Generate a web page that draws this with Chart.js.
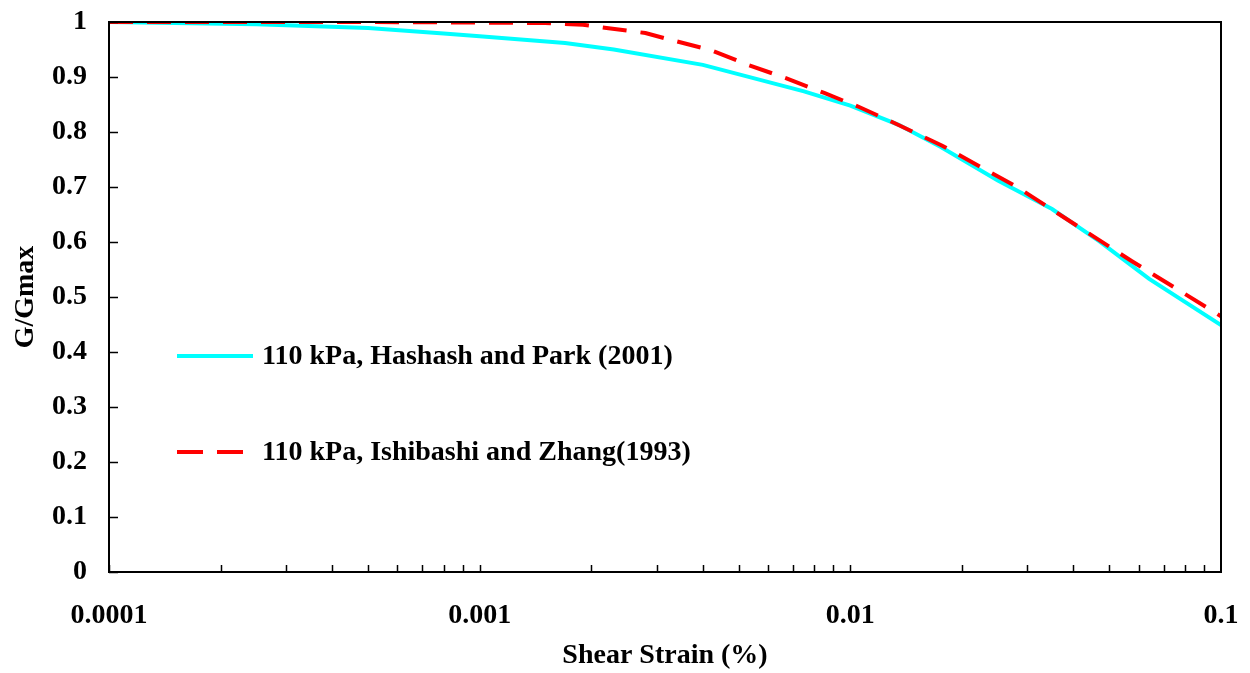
<!DOCTYPE html>
<html>
<head>
<meta charset="utf-8">
<script src="https://cdn.jsdelivr.net/npm/chart.js@4"></script>
<style>
  body { margin: 0; background: #fff; }
  #wrap { width: 1250px; height: 673px; }
</style>
</head>
<body>
<div id="wrap"><canvas id="gg" width="1250" height="673"></canvas></div>
<script>
// Hashash and Park (2001), 110 kPa
const hpStrain = [0.0001, 0.00025, 0.0005, 0.0008, 0.001, 0.0017, 0.0023, 0.004, 0.0075, 0.01, 0.0135, 0.0175, 0.025, 0.035, 0.047, 0.064, 0.1];
const hpRatio  = [1.0, 0.996, 0.989, 0.979, 0.974, 0.962, 0.950, 0.922, 0.874, 0.848, 0.813, 0.773, 0.712, 0.660, 0.601, 0.533, 0.449];

// Ishibashi and Zhang (1993), 110 kPa
const izStrain = [0.0001, 0.0005, 0.001, 0.0015, 0.0019, 0.0022, 0.0028, 0.0033, 0.0042, 0.0053, 0.0067, 0.0085, 0.0106, 0.0128, 0.0177, 0.028, 0.0575, 0.1];
const izRatio  = [1.0, 1.0, 0.999, 0.998, 0.995, 0.989, 0.980, 0.967, 0.949, 0.922, 0.898, 0.871, 0.845, 0.820, 0.775, 0.701, 0.565, 0.465];

const seriesNames = ['110 kPa, Hashash and Park (2001)', '110 kPa, Ishibashi and Zhang(1993)'];
const xLabels = ['0.0001', '0.001', '0.01', '0.1'];

const FONT = 'Liberation Serif';

function toPoints(xs, ys) {
    return xs.map((x, i) => ({ x: x, y: ys[i] }));
}

// inward tick marks and the box round the plot
const frame = {
    id: 'frame',
    afterDraw(chart) {
        const ctx = chart.ctx;
        const a = chart.chartArea;
        const xs = chart.scales.x, ys = chart.scales.y;
        ctx.save();
        ctx.strokeStyle = '#000';
        ctx.lineWidth = 2;
        ctx.strokeRect(a.left, a.top, a.right - a.left, a.bottom - a.top);
        ctx.lineWidth = 1.5;
        ctx.beginPath();
        ys.ticks.forEach(t => {
            const py = Math.round(ys.getPixelForValue(t.value)) + 0.5;
            ctx.moveTo(a.left, py);
            ctx.lineTo(a.left + 9, py);
        });
        for (let p = -4; p < -1; p++) {
            for (let k = 1; k <= 9; k++) {
                const px = Math.round(xs.getPixelForValue(k * Math.pow(10, p))) + 0.5;
                ctx.moveTo(px, a.bottom);
                ctx.lineTo(px, a.bottom - 7);
            }
        }
        ctx.stroke();
        ctx.restore();
    }
};

// legend sits inside the plot
const innerLegend = {
    id: 'innerLegend',
    afterDatasetsDraw(chart) {
        const ctx = chart.ctx;
        const rows = [
            { y: 356, color: 'rgb(0,255,255)', dash: [] },
            { y: 452, color: 'rgb(255,0,0)', dash: [26, 14] }
        ];
        ctx.save();
        rows.forEach((r, i) => {
            ctx.strokeStyle = r.color;
            ctx.lineWidth = 4;
            ctx.setLineDash(r.dash);
            ctx.beginPath();
            ctx.moveTo(177, r.y);
            ctx.lineTo(i === 0 ? 253 : 244, r.y);
            ctx.stroke();
            ctx.setLineDash([]);
            ctx.fillStyle = '#000';
            ctx.font = 'bold 28px "' + FONT + '"';
            ctx.textBaseline = 'middle';
            ctx.textAlign = 'left';
            ctx.fillText(seriesNames[i], 262, r.y + 1);
        });
        ctx.restore();
    }
};

function initChart() {
    const ctx = document.getElementById('gg').getContext('2d');
    new Chart(ctx, {
        type: 'scatter',
        data: {
            datasets: [{
                label: seriesNames[0],
                data: toPoints(hpStrain, hpRatio),
                showLine: true,
                borderColor: 'rgb(0,255,255)',
                borderWidth: 4,
                pointRadius: 0,
                tension: 0,
                order: 2
            }, {
                label: seriesNames[1],
                data: toPoints(izStrain, izRatio),
                showLine: true,
                borderColor: 'rgb(255,0,0)',
                borderWidth: 4,
                borderDash: [24, 14],
                pointRadius: 0,
                tension: 0,
                order: 1
            }]
        },
        options: {
            responsive: false,
            animation: false,
            layout: { padding: { top: 22, right: 29, left: 0, bottom: 0 } },
            plugins: {
                legend: { display: false },
                tooltip: { enabled: false }
            },
            scales: {
                x: {
                    type: 'logarithmic',
                    min: 0.0001,
                    max: 0.1,
                    afterFit: s => {
                        s.height = 101;
                        s.paddingLeft = 0;
                        s.paddingRight = 0;
                    },
                    grid: { display: false },
                    border: { display: true, color: '#000', width: 2 },
                    ticks: {
                        autoSkip: false,
                        maxRotation: 0,
                        padding: 19,
                        color: '#000',
                        font: { family: FONT, size: 28, weight: 'bold' },
                        callback: function(v) {
                            const l = Math.log10(v);
                            if (Math.abs(l - Math.round(l)) > 1e-9) return '';
                            return xLabels[Math.round(l) + 4];
                        }
                    },
                    title: {
                        display: true,
                        text: 'Shear Strain (%)',
                        color: '#000',
                        font: { family: FONT, size: 28, weight: 'bold' },
                        padding: { top: -3, bottom: 0 }
                    }
                },
                y: {
                    min: 0,
                    max: 1,
                    afterFit: s => {
                        s.width = 109;
                        s.paddingTop = 0;
                        s.paddingBottom = 0;
                    },
                    grid: { display: false },
                    border: { display: true, color: '#000', width: 2 },
                    ticks: {
                        stepSize: 0.1,
                        padding: 14,
                        color: '#000',
                        font: { family: FONT, size: 28, weight: 'bold' },
                        callback: v => String(Number(v.toFixed(1)))
                    },
                    title: {
                        display: true,
                        text: 'G/Gmax',
                        color: '#000',
                        font: { family: FONT, size: 28, weight: 'bold' },
                        padding: { top: 9, bottom: 0 }
                    }
                }
            }
        },
        plugins: [innerLegend, frame]
    });
}

document.addEventListener('DOMContentLoaded', initChart);
</script>
</body>
</html>
